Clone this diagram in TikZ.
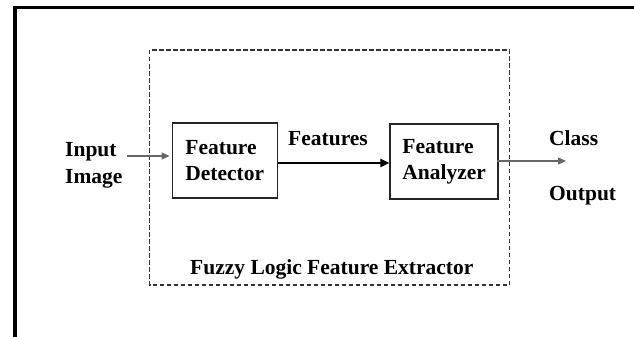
\documentclass[tikz,border=0pt]{standalone}
\usepackage{fontspec}
\setmainfont{Liberation Serif}
\usetikzlibrary{arrows.meta}

\begin{document}
\begin{tikzpicture}[x=1pt, y=-1pt,
    every node/.style={font=\fontsize{21.5}{26.7}\selectfont\bfseries, inner sep=0pt},
    blockbox/.style={draw=black!85, line width=1.5pt, minimum height=75pt, align=left},
    thinarrow/.style={draw=black!60, line width=1.1pt, -{Triangle[length=8pt,width=7pt]}},
    thickarrow/.style={draw=black, line width=2pt, -{Triangle[length=9pt,width=8pt]}},
    dashbox/.style={draw=black!80, line width=1.2pt, dash pattern=on 4.5pt off 2.5pt}]
    \useasboundingbox (0,0) rectangle (634,337);
    % outer frame
    \draw[line width=3.5pt] (15,337) -- (15,7.5) -- (634,7.5);
    % extractor frame
    \draw[dashbox] (149.5,50) rectangle (509.5,285);
    \node[blockbox, minimum width=105pt] (det) at (224.8,160.5) {Feature\\Detector};
    \node[blockbox, minimum width=108pt] (ana) at (444.2,161.7) {Feature\\Analyzer};
    \node[anchor=west, align=left] (input) at (65,165) {Input\\Image};
    \node[anchor=base west] (feat) at (288,145) {Features};
    \node[anchor=base west] (class) at (549,145) {Class};
    \node[anchor=base west] (output) at (549,200) {Output};
    \node[anchor=base west] (fuzzy) at (190,274) {Fuzzy Logic Feature Extractor};
    \coordinate (out) at (566,161);
    % connectors
    \draw[thinarrow, shorten >=2pt] ([yshift=9pt]input.east) ++(4.5pt,0) -- ([yshift=4.5pt]det.west);
    \draw[thickarrow] ([yshift=-2.5pt]det.east) -- ([yshift=-2.5pt]det.east -| ana.west);
    \draw[thinarrow] ([xshift=-2pt]ana.east |- out) -- (out);
\end{tikzpicture}
\end{document}
